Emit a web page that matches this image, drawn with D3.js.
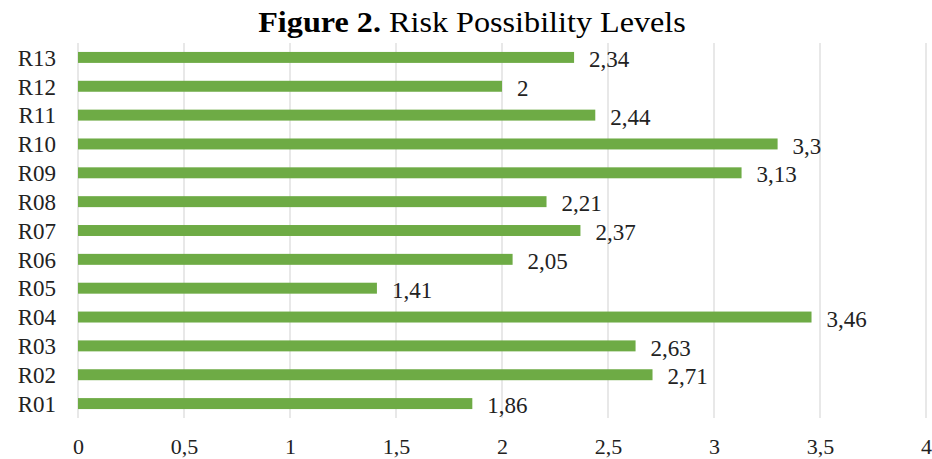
<!DOCTYPE html>
<html>
<head>
<meta charset="utf-8">
<script src="https://cdn.jsdelivr.net/npm/d3@7"></script>
<style>
  body { margin: 0; background: #fff; }
  svg text { font-family: "Liberation Serif", "Times New Roman", serif; fill: #222; }
</style>
</head>
<body>
<div id="chart"></div>
<script>
// data
const risks = ["R01", "R02", "R03", "R04", "R05", "R06", "R07", "R08", "R09", "R10", "R11", "R12", "R13"];
const levels = [1.86, 2.71, 2.63, 3.46, 1.41, 2.05, 2.37, 2.21, 3.13, 3.3, 2.44, 2, 2.34];
const xTicks = [0, 0.5, 1, 1.5, 2, 2.5, 3, 3.5, 4];

const width = 932, height = 459;
const margin = {top: 43, right: 6, bottom: 41, left: 78};
const innerW = width - margin.left - margin.right;
const innerH = height - margin.top - margin.bottom;

const fmt = v => String(v).replace(".", ",");

const svg = d3.select("#chart").append("svg")
    .attr("width", width)
    .attr("height", height);

// title (the scan is a bit wider than plain Times, so stretch it)
const title = svg.append("text")
    .attr("transform", `translate(472,32) scale(1.11,1)`)
    .attr("text-anchor", "middle")
    .style("font-size", "29px")
    .style("fill", "#000");
title.append("tspan").style("font-weight", "bold").text("Figure 2.");
title.append("tspan").text(" Risk Possibility Levels");

const g = svg.append("g")
    .attr("transform", `translate(${margin.left},${margin.top})`);

const x = d3.scaleLinear().domain([0, 4]).range([0, innerW]);
const y = d3.scaleBand()
    .domain(risks.slice().reverse())
    .range([0, innerH])
    .paddingInner(0.62)
    .paddingOuter(0.31);

// vertical gridlines
g.append("g")
    .selectAll("line")
    .data(xTicks)
    .join("line")
    .attr("x1", d => x(d))
    .attr("x2", d => x(d))
    .attr("y1", 0)
    .attr("y2", innerH)
    .attr("stroke", "#d9d9d9")
    .attr("stroke-width", 1.2);

// x axis labels
const xAxis = d3.axisBottom(x)
    .tickValues(xTicks)
    .tickFormat(fmt)
    .tickSize(0)
    .tickPadding(20);

g.append("g")
    .attr("transform", `translate(0,${innerH})`)
    .call(xAxis)
    .call(a => a.select(".domain").remove())
    .selectAll("text")
    .style("font-size", "22px")
    .style("font-family", "Liberation Serif, serif");

// y axis labels
const yAxis = d3.axisLeft(y).tickSize(0).tickPadding(22);
g.append("g")
    .call(yAxis)
    .call(a => a.select(".domain").remove())
    .selectAll("text")
    .attr("dy", "0.36em")
    .style("font-size", "23px")
    .style("font-family", "Liberation Serif, serif");

const rows = risks.map((r, i) => ({risk: r, value: levels[i]}));

// bars
g.append("g")
    .selectAll("rect")
    .data(rows)
    .join("rect")
    .attr("x", x(0))
    .attr("y", d => y(d.risk))
    .attr("width", d => x(d.value) - x(0))
    .attr("height", y.bandwidth())
    .attr("fill", "#6EAB45");

// value labels
g.append("g")
    .selectAll("text")
    .data(rows)
    .join("text")
    .attr("x", d => x(d.value) + 15)
    .attr("y", d => y(d.risk) + y.bandwidth() / 2)
    .attr("dy", "0.42em")
    .style("font-size", "23px")
    .text(d => fmt(d.value));
</script>
</body>
</html>
